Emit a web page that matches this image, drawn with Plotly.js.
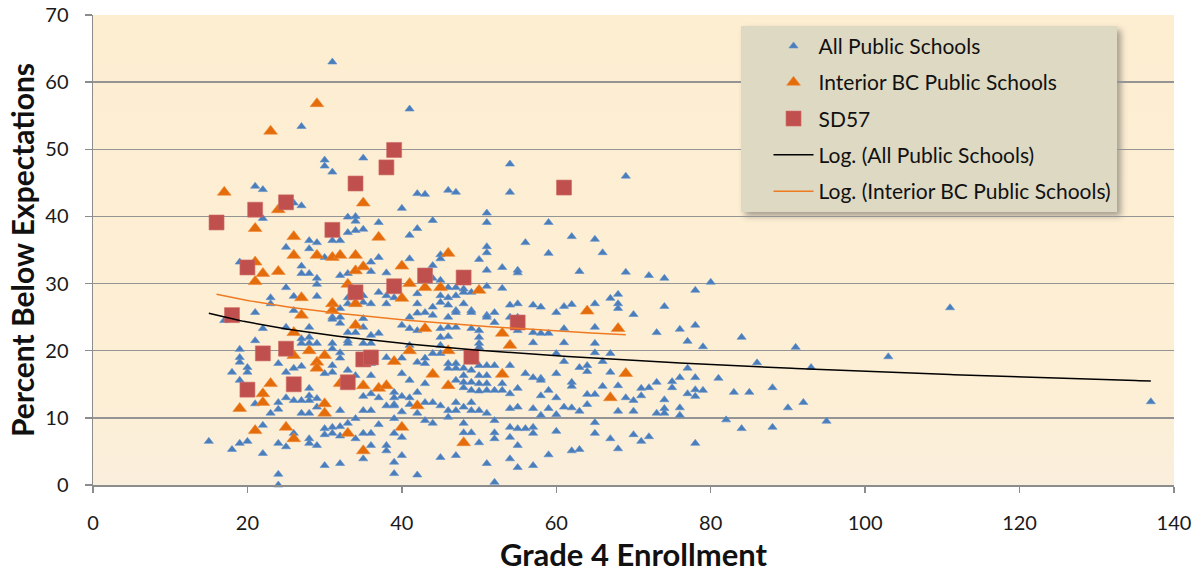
<!DOCTYPE html>
<html>
<head>
<meta charset="utf-8">
<script src="https://cdn.plot.ly/plotly-3.0.1.min.js"></script>
<style>
  html, body { margin: 0; padding: 0; background: #ffffff; }
  #wrap { position: relative; width: 1202px; height: 574px; }
  #bg { position: absolute; left: 93px; top: 15px; width: 1081px; height: 470px;
        background: linear-gradient(#fdeed2 0%, #fdefd5 80%, #faeedc 100%); z-index: 0; }
  #shadow { position: absolute; background: rgba(60,60,60,0.45); filter: blur(3px); z-index: 1; display: none; }
  #chart { position: absolute; left: 0; top: 0; width: 1202px; height: 574px; z-index: 2; }
</style>
</head>
<body>
<div id="wrap">
  <div id="bg"></div>
  <div id="shadow"></div>
  <div id="chart"></div>
</div>
<script>
// ---- Data ----
// All Public Schools: enrollment columns and the percentages found in each column
const allEnrollment = [15,17,18,19,20,21,22,23,24,25,26,27,28,29,30,31,32,33,34,35,36,37,38,39,40,41,42,43,44,45,46,47,48,49,50,51,52,53,54,55,56,57,58,59,60,61,62,63,64,65,66,67,68,69,70,71,72,73,74,75,76,77,78,79,80,81,82,83,84,85,86,88,90,91,92,93,95,103,111,137];
const allPercent = [
  [6.5],
  [24.5],
  [16.8, 5.3],
  [33.2, 20.2, 19.0, 18.3, 15.6, 6.2],
  [17.5, 16.8, 6.5],
  [44.5, 25.7, 21.5, 12.1],
  [44.0, 39.7, 23.3, 8.9, 4.7],
  [27.9, 27.0, 10.7],
  [18.1, 12.3, 11.3, 6.2, 1.6, 0],
  [35.4, 29.4, 23.5, 16.8, 13.0, 5.7],
  [42.0, 28.1, 26.0, 17.4, 12.6, 7.7],
  [53.4, 41.6, 32.6, 31.5, 21.8, 21.1, 17.7, 12.6, 10.7],
  [36.4, 35.2, 31.5, 23.5, 22.0, 21.1, 14.4, 13.3, 12.6, 10.7, 6.9, 6.2],
  [36.1, 30.8, 29.9, 28.1, 21.1, 12.9, 11.6, 5.9],
  [48.4, 47.5, 33.9, 16.6, 8.4, 7.5, 2.9],
  [63.0, 46.6, 36.4, 25.0, 24.7, 21.1, 20.3, 17.8, 16.8, 8.6, 7.7],
  [36.4, 31.2, 26.3, 25.0, 24.1, 19.7, 18.9, 11.1, 8.7, 7.3, 3.2],
  [39.9, 37.6, 31.5, 27.9, 27.0, 22.7, 21.5, 21.1, 17.1, 9.2],
  [40.0, 39.3, 37.9, 22.7, 16.3, 9.9, 6.9],
  [48.7, 38.1, 28.2, 27.2, 24.8, 23.5, 21.1, 13.2, 11.1, 7.7, 3.9],
  [33.2, 31.8, 27.0, 22.3, 21.1, 18.1, 16.3, 13.6, 11.1, 7.7, 5.9],
  [39.1, 33.9, 28.7, 22.6, 13.0, 9.0],
  [31.6, 28.2, 27.0, 19.0, 11.8, 5.9, 5.1],
  [27.9, 13.8, 13.0, 12.0, 11.8, 9.9, 7.7, 3.4, 1.7],
  [41.2, 23.8, 18.9, 16.6, 13.2, 10.9, 7.1, 4.4],
  [56.0, 37.2, 33.7, 25.0, 23.3, 20.8, 15.6, 13.0, 12.0],
  [43.4, 38.2, 28.5, 27.0, 25.6, 23.0, 18.3, 13.8, 10.7, 1.5],
  [43.3, 25.7, 18.9, 18.1, 15.1, 12.3, 9.6],
  [39.4, 32.7, 30.8, 26.5, 25.3, 19.6, 12.3, 9.2],
  [34.3, 33.7, 30.5, 28.2, 27.2, 23.3, 22.0, 20.8, 19.6, 11.8, 4.1],
  [43.9, 29.4, 27.9, 26.8, 25.0, 23.5, 22.1, 18.1, 17.4, 11.1, 10.1],
  [43.6, 29.4, 28.2, 26.0, 25.7, 23.5, 18.1, 17.4, 15.6, 12.3, 11.1, 4.4],
  [29.2, 28.7, 27.0, 17.4, 16.3, 15.3, 14.5, 11.6, 9.2, 7.8],
  [28.7, 26.0, 25.7, 23.3, 17.1, 15.3, 14.1, 12.3, 11.1, 7.8],
  [33.6, 23.0, 22.0, 21.1, 20.5, 17.8, 16.3, 15.1, 14.0, 11.1, 6.3],
  [40.5, 39.1, 35.5, 34.6, 32.0, 29.6, 25.3, 25.0, 17.8, 16.3, 15.1, 14.1, 10.7, 3.2],
  [25.7, 24.2, 17.8, 14.1, 9.6, 7.8, 6.9, 0.4],
  [32.4, 29.3, 15.1, 14.1],
  [47.8, 43.6, 26.8, 25.0, 17.8, 13.6, 11.4, 8.6, 7.1, 3.9],
  [32.0, 31.6, 27.0, 25.0, 23.0, 14.4, 11.6, 8.4, 5.9, 2.6],
  [36.1, 16.6, 8.4],
  [26.8, 22.7, 21.2, 16.0, 11.4, 8.6, 7.7, 2.9],
  [26.5, 22.6, 15.9, 15.6, 13.3, 10.4],
  [39.1, 34.5, 22.6, 14.1, 11.4, 4.5],
  [25.7, 19.6, 16.6, 13.0, 10.5, 8.0],
  [26.6, 23.3, 21.2, 18.4, 11.6],
  [37.0, 26.9, 15.3, 14.7, 11.5, 5.1],
  [31.8, 17.5, 11.0, 5.3],
  [17.8, 16.9, 13.5, 12.0],
  [36.6, 27.0, 23.5, 21.1, 19.7, 13.5, 9.3, 7.7],
  [34.6, 18.4, 14.7],
  [27.8, 19.6, 16.8, 6.9],
  [28.4, 27.0, 26.3, 14.8, 11.0, 5.4],
  [46.0, 31.7, 13.0],
  [25.4, 12.6, 11.0, 7.5],
  [14.4, 13.3, 6.5],
  [31.2, 14.5, 7.2],
  [22.7, 15.3, 10.7],
  [30.8, 26.6, 12.7, 11.4, 10.7],
  [15.4, 14.5],
  [23.2, 16.0, 11.5, 10.4],
  [21.4, 17.4, 13.6],
  [29.0, 23.8, 16.0, 14.2, 13.2, 6.2],
  [20.6, 14.1],
  [30.2],
  [15.9],
  [9.7],
  [13.8],
  [22.0, 8.4],
  [13.8],
  [18.2],
  [14.5, 8.6],
  [11.5],
  [20.5],
  [12.3],
  [17.5],
  [9.5],
  [19.1],
  [26.4],
  [12.4]
];

// Interior BC Public Schools (visible orange triangles)
const interiorEnrollment = [17,23,29,35,24,21,26,26,29,31,32,34,21,22,24,21,34,35,33,27,31,34,31,27,37,46,40,41,43,45,50,40,64,68,69,67,26,26,28,29,29,30,34,23,22,22,19,30,30,21,25,26,32,35,33,35,43,53,54,41,46,39,44,53,37,38,46,42,40,48];
const interiorPercent   = [43.6,52.7,56.8,42.0,41.0,38.2,37.0,34.2,34.2,33.9,34.2,34.2,33.2,31.5,31.8,30.3,31.9,32.5,29.9,27.9,27.0,27.0,26.0,25.3,36.9,34.5,32.6,30.0,29.4,29.4,29.0,27.8,25.9,23.3,16.6,13.0,22.7,19.3,20.0,18.3,17.4,19.3,23.8,15.1,13.6,12.3,11.4,12.1,10.7,8.1,8.6,6.9,15.1,14.8,7.7,5.1,23.3,22.6,20.8,20.0,20.0,18.4,16.5,16.5,14.4,14.8,14.8,11.8,8.6,6.3];

// SD57 schools (red squares) - also part of the Interior BC and All Public sets
const sd57Enrollment = [16,18,20,20,21,22,25,25,26,31,33,34,34,35,36,38,39,39,43,48,49,55,61];
const sd57Percent    = [39.1,25.3,32.4,14.2,41.0,19.6,42.1,20.3,15.0,38.0,15.3,44.9,28.7,18.7,19.0,47.3,49.9,29.6,31.2,30.9,19.1,24.2,44.3];

const seriesNames = ['All Public Schools', 'Interior BC Public Schools', 'SD57',
                     'Log. (All Public Schools)', 'Log. (Interior BC Public Schools)'];

// ---- Build series ----
const blueX = [], blueY = [];
allEnrollment.forEach((x, i) => allPercent[i].forEach(y => { blueX.push(x); blueY.push(y); }));

// nested membership: SD57 ⊂ Interior BC ⊂ All public
const intAllX = interiorEnrollment.concat(sd57Enrollment);
const intAllY = interiorPercent.concat(sd57Percent);
const allX = blueX.concat(intAllX);
const allY = blueY.concat(intAllY);

function logFit(xs, ys) {
  const n = xs.length;
  let sx = 0, sy = 0, sxx = 0, sxy = 0;
  for (let i = 0; i < n; i++) {
    const lx = Math.log(xs[i]);
    sx += lx; sy += ys[i]; sxx += lx * lx; sxy += lx * ys[i];
  }
  const b = (n * sxy - sx * sy) / (n * sxx - sx * sx);
  const a = (sy - b * sx) / n;
  const lo = Math.min(...xs), hi = Math.max(...xs);
  const fx = [], fy = [];
  for (let x = lo; x <= hi + 1e-9; x += 0.5) { fx.push(x); fy.push(a + b * Math.log(x)); }
  return { x: fx, y: fy };
}
const fitAll = logFit(allX, allY);
const fitInt = logFit(intAllX, intAllY);

const FONT = 'Lato, "Open Sans", "DejaVu Sans", sans-serif';

const traces = [
  { type: 'scatter', mode: 'markers', name: seriesNames[0], x: allX, y: allY, legendgroup: 'a',
    cliponaxis: false,
    marker: { symbol: 'triangle-up', size: 8, color: '#4a7ebb', line: { width: 0.6, color: '#5f8fcc' } } },
  { type: 'scatter', mode: 'markers', name: seriesNames[1], x: intAllX, y: intAllY, legendgroup: 'b',
    cliponaxis: false,
    marker: { symbol: 'triangle-up', size: 12, color: '#e46c0a', line: { width: 0.6, color: '#f08a3a' } } },
  { type: 'scatter', mode: 'markers', name: seriesNames[2], x: sd57Enrollment, y: sd57Percent, legendgroup: 'c',
    cliponaxis: false,
    marker: { symbol: 'square', size: 15, color: '#c0504d', line: { width: 0.6, color: '#cf6b68' } } },
  { type: 'scatter', mode: 'lines', name: seriesNames[3], x: fitAll.x, y: fitAll.y, legendgroup: 'd',
    line: { color: '#000000', width: 1.5 } },
  { type: 'scatter', mode: 'lines', name: seriesNames[4], x: fitInt.x, y: fitInt.y, legendgroup: 'e',
    line: { color: '#ee7a22', width: 1.5 } }
];

const axisCommon = {
  showline: true, linecolor: '#8c8c8c', linewidth: 1.5,
  ticks: 'outside', tickcolor: '#8c8c8c', tickwidth: 1.5,
  tickfont: { family: FONT, size: 20, color: '#1a1a1a' },
  zeroline: false, automargin: false, fixedrange: true
};

const layout = {
  width: 1202, height: 574,
  margin: { l: 93, r: 28, t: 15, b: 89 },
  paper_bgcolor: 'rgba(0,0,0,0)', plot_bgcolor: 'rgba(0,0,0,0)',
  font: { family: FONT, color: '#1a1a1a' },
  showlegend: true,
  legend: {
    x: 0.599, y: 0.977, xanchor: 'left', yanchor: 'top',
    bgcolor: '#ddd9c3', borderwidth: 0,
    font: { family: FONT, size: 21, color: '#111111' },
    traceorder: 'grouped', tracegroupgap: 6, itemwidth: 40,
    indentation: 28
  },
  xaxis: Object.assign({}, axisCommon, {
    range: [0, 140], dtick: 20, tick0: 0, showgrid: false, ticklen: 6, ticklabelstandoff: 13,
    title: { text: 'Grade 4 Enrollment', font: { family: FONT, size: 31, color: '#111111', weight: 'bold' }, standoff: 12 }
  }),
  yaxis: Object.assign({}, axisCommon, {
    range: [0, 70], dtick: 10, tick0: 0, showgrid: true, gridcolor: '#949494', gridwidth: 1.5, ticklen: 7,
    ticklabelstandoff: 12,
    title: { text: 'Percent Below Expectations', font: { family: FONT, size: 30, color: '#111111', weight: 'bold' }, standoff: 2 }
  })
};

Plotly.newPlot('chart', traces, layout, { displayModeBar: false, staticPlot: true }).then(() => {
  const bg = document.querySelector('#chart .legend .bg');
  if (bg) {
    const r = bg.getBoundingClientRect();
    const w = document.getElementById('wrap').getBoundingClientRect();
    const s = document.getElementById('shadow');
    s.style.left = (r.left - w.left + 4) + 'px';
    s.style.top = (r.top - w.top + 4) + 'px';
    s.style.width = r.width + 'px';
    s.style.height = r.height + 'px';
    s.style.display = 'block';
  }
});
</script>
</body>
</html>
